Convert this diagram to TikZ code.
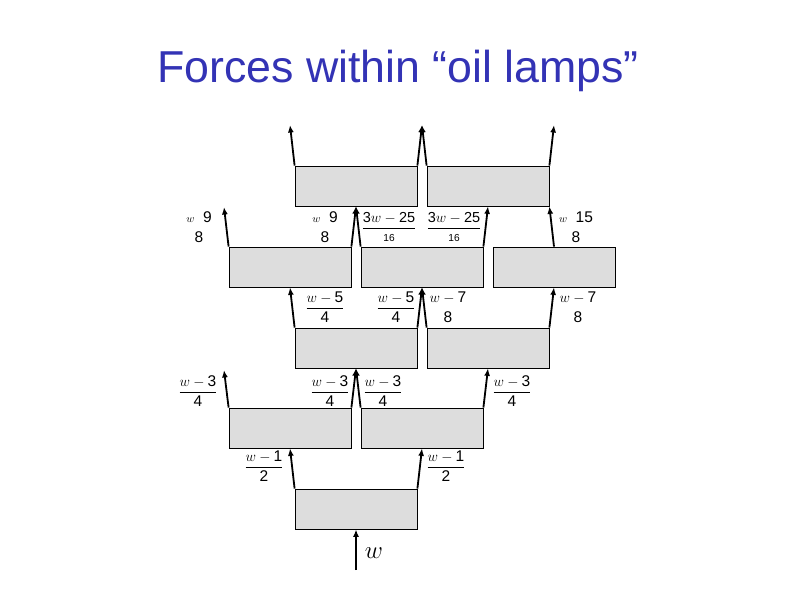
\documentclass[tikz,border=0pt]{standalone}
\usepackage{amsmath}
\usepackage{fontspec}
\setmainfont{Liberation Sans}
\usetikzlibrary{arrows.meta}

\definecolor{titleblue}{RGB}{51,51,181}
% digits set upright in the sans text font
\newcommand{\nm}[1]{\text{#1}}

\begin{document}
\begin{tikzpicture}[
    x=1pt,
    y=-1pt,
    lamp/.style={rectangle, draw=black, line width=0.8pt, fill=gray!27, minimum width=122pt, minimum height=40pt, inner sep=0pt},
    force/.style={-{Latex[length=7.5pt,width=6pt]}, line width=1.8pt},
    lbl/.style={inner sep=0pt, font=\fontsize{15.5}{17}\selectfont},
    lblsmall/.style={inner sep=0pt, font=\fontsize{14.5}{16}\selectfont},
    title/.style={anchor=base, inner sep=0pt, text=titleblue, font=\fontsize{44.7}{50}\selectfont},
]
\useasboundingbox (0,0) rectangle (794,595);

% Title
\node[title] (title) at (398,82) {Forces within “oil lamps”};

% Lamps, bottom row first
\node[lamp] (b1)  at (356,509) {};
\node[lamp] (b2l) at (290,428) {};
\node[lamp] (b2r) at (422,428) {};
\node[lamp] (b3l) at (356,348) {};
\node[lamp] (b3r) at (488,348) {};
\node[lamp] (b4l) at (290,267) {};
\node[lamp] (b4m) at (422,267) {};
\node[lamp] (b4r) at (554,267) {};
\node[lamp] (b5l) at (356,186) {};
\node[lamp] (b5r) at (488,186) {};

% Free ends of the outer forces
\coordinate (w0)  at (356,570);
\coordinate (e2l) at (224,370);
\coordinate (e4l) at (224,207);
\coordinate (e5l) at (290,125);
\coordinate (e5m) at (422,125);
\coordinate (e5r) at (554,125);

% Forces
\draw[force] (w0) -- (b1.south);
\draw[force] (b1.north west) -- (b2l.south);
\draw[force] (b1.north east) -- (b2r.south);

\draw[force] (b2l.north west) -- (e2l);
\draw[force] (b2l.north east) -- (b3l.south);
\draw[force] (b2r.north west) -- (b3l.south);
\draw[force] (b2r.north east) -- (b3r.south);

\draw[force] (b3l.north west) -- (b4l.south);
\draw[force] (b3l.north east) -- (b4m.south);
\draw[force] (b3r.north west) -- (b4m.south);
\draw[force] (b3r.north east) -- (b4r.south);

\draw[force] (b4l.north west) -- (e4l);
\draw[force] (b4l.north east) -- (b5l.south);
\draw[force] (b4m.north west) -- (b5l.south);
\draw[force] (b4m.north east) -- (b5r.south);
\draw[force] (b4r.north) -- (b5r.south east);

\draw[force] (b5l.north west) -- (e5l);
\draw[force] (b5l.north east) -- (e5m);
\draw[force] (b5r.north west) -- (e5m);
\draw[force] (b5r.north east) -- (e5r);

% Labels
\node[lbl, font=\fontsize{24}{26}\selectfont] (lw) at (374,553) {$w$};
\node[lbl] (l1a)  at (264,466) {$\dfrac{w-\nm{1}}{\nm{2}}$};
\node[lbl] (l1b)  at (446,466) {$\dfrac{w-\nm{1}}{\nm{2}}$};

\node[lbl] (l2a)  at (198,391) {$\dfrac{w-\nm{3}}{\nm{4}}$};
\node[lbl] (l2b)  at (330,391) {$\dfrac{w-\nm{3}}{\nm{4}}$};
\node[lbl] (l2c)  at (383,391) {$\dfrac{w-\nm{3}}{\nm{4}}$};
\node[lbl] (l2d)  at (512,391) {$\dfrac{w-\nm{3}}{\nm{4}}$};

\node[lbl] (l3a)  at (325,307) {$\dfrac{w-\nm{5}}{\nm{4}}$};
\node[lbl] (l3b)  at (396,307) {$\dfrac{w-\nm{5}}{\nm{4}}$};
\node[lbl] (l3c)  at (448,307) {$\genfrac{}{}{0pt}{0}{w-\nm{7}}{\nm{8}}$};
\node[lbl] (l3d)  at (578,307) {$\genfrac{}{}{0pt}{0}{w-\nm{7}}{\nm{8}}$};

\node[lbl] (l4a)  at (199,227) {$\genfrac{}{}{0pt}{0}{\scriptstyle w\phantom{-}\textstyle\nm{9}}{\nm{8}}$};
\node[lbl] (l4b)  at (325,227) {$\genfrac{}{}{0pt}{0}{\scriptstyle w\phantom{-}\textstyle\nm{9}}{\nm{8}}$};
\node[lblsmall] (l4c) at (389,227) {$\dfrac{\nm{3}w-\nm{25}}{\scriptstyle\nm{16}}$};
\node[lblsmall] (l4d) at (454,227) {$\dfrac{\nm{3}w-\nm{25}}{\scriptstyle\nm{16}}$};
\node[lbl] (l4e)  at (576,227) {$\genfrac{}{}{0pt}{0}{\scriptstyle w\phantom{-}\textstyle\nm{15}}{\nm{8}}$};

\end{tikzpicture}
\end{document}
